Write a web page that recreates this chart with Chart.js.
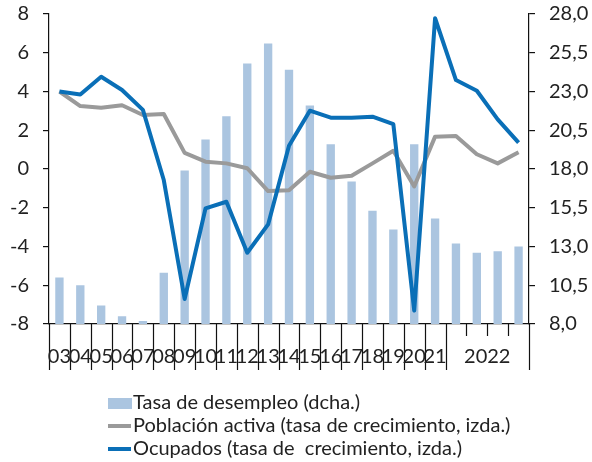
<!DOCTYPE html>
<html>
<head>
<meta charset="utf-8">
<script src="https://cdn.jsdelivr.net/npm/chart.js@4.4.0/dist/chart.umd.min.js"></script>
<style>
  html, body { margin: 0; padding: 0; background: #fff; }
  #wrap { width: 592px; height: 462px; }
</style>
</head>
<body>
<div id="wrap"><canvas id="chart" width="592" height="462"></canvas></div>
<script>
// categories: yearly 2003-2021, then 2022 by quarter
const years = ['03', '04', '05', '06', '07', '08', '09', '10', '11', '12', '13', '14', '15', '16', '17', '18', '19', '20', '21'];
const quarterYear = '2022';
const quarters = ['I', 'II', 'III', 'IV'];
const categories = years.concat(quarters.map(q => quarterYear + ' ' + q));

// Tasa de desempleo (%, right axis)
const unemployment = [11.0, 10.5, 9.2, 8.5, 8.2, 11.3, 17.9, 19.9, 21.4, 24.8, 26.1, 24.4, 22.1, 19.6, 17.2, 15.3, 14.1, 19.6, 14.8, 13.2, 12.6, 12.7, 13.0];
// Población activa (tasa de crecimiento, left axis)
const activePop = [4.0, 3.25, 3.16, 3.29, 2.79, 2.84, 0.83, 0.38, 0.29, 0.04, -1.14, -1.10, -0.14, -0.45, -0.35, 0.29, 0.94, -0.9, 1.67, 1.70, 0.76, 0.29, 0.86];
// Ocupados (tasa de crecimiento, left axis)
const employed = [4.0, 3.85, 4.76, 4.08, 3.05, -0.57, -6.71, -2.03, -1.69, -4.32, -2.86, 1.2, 3.01, 2.65, 2.65, 2.70, 2.31, -7.31, 7.78, 4.59, 4.04, 2.56, 1.36];

const FONT = 'Lato, "Open Sans", sans-serif';
const TEXT = '#222';

// draws category boundary ticks, x labels and the legend
const axisExtras = {
  id: 'axisExtras',
  afterDraw(chart) {
    const { ctx } = chart;
    const x = chart.scales.x;
    const n = categories.length;
    const bottom = chart.chartArea.bottom;
    const step = x.width / n;
    ctx.save();
    ctx.strokeStyle = '#111';
    ctx.lineWidth = 1.2;
    for (let i = 0; i <= n; i++) {
      const px = Math.round(x.left + i * step) + 0.5;
      const inQuarters = i > years.length && i < n;
      ctx.beginPath();
      ctx.moveTo(px, bottom);
      ctx.lineTo(px, bottom + (inQuarters ? 12 : 46));
      ctx.stroke();
    }
    ctx.fillStyle = TEXT;
    ctx.font = '20px ' + FONT;
    ctx.textAlign = 'center';
    ctx.textBaseline = 'middle';
    years.forEach((y, i) => {
      ctx.fillText(y, x.getPixelForValue(i), bottom + 33);
    });
    const qa = x.getPixelForValue(years.length);
    const qb = x.getPixelForValue(n - 1);
    ctx.fillText(quarterYear, (qa + qb) / 2, bottom + 33);

    // legend
    ctx.textAlign = 'left';
    ctx.font = '20px ' + FONT;
    const lx = 108, ly = 403, lh = 23;
    chart.data.datasets.forEach((ds, i) => {
      const cy = ly + i * lh;
      if (ds.type === 'bar') {
        ctx.fillStyle = ds.backgroundColor;
        ctx.fillRect(lx, cy - 5, 24, 11);
      } else {
        ctx.strokeStyle = ds.borderColor;
        ctx.lineWidth = 4;
        ctx.beginPath();
        ctx.moveTo(lx, cy);
        ctx.lineTo(lx + 23, cy);
        ctx.stroke();
      }
      ctx.fillStyle = TEXT;
      ctx.fillText(ds.label, lx + 25, cy);
    });
    ctx.restore();
  }
};

// fixed widths and no automatic label padding, so the plot area stays put
const fitY = w => scale => {
  scale.width = w;
  scale.paddingTop = 0;
  scale.paddingBottom = 0;
};

new Chart(document.getElementById('chart'), {
  type: 'bar',
  data: {
    labels: categories,
    datasets: [
      {
        type: 'bar',
        label: 'Tasa de desempleo (dcha.)',
        data: unemployment,
        yAxisID: 'y1',
        backgroundColor: '#abc5e0',
        barPercentage: 0.4,
        categoryPercentage: 1,
        order: 3
      },
      {
        type: 'line',
        label: 'Población activa (tasa de crecimiento, izda.)',
        data: activePop,
        yAxisID: 'y',
        borderColor: '#9a9a9a',
        borderWidth: 4,
        pointRadius: 0,
        tension: 0,
        borderJoinStyle: 'round',
        order: 2
      },
      {
        type: 'line',
        label: 'Ocupados (tasa de  crecimiento, izda.)',
        data: employed,
        yAxisID: 'y',
        borderColor: '#0a6fb7',
        borderWidth: 4,
        pointRadius: 0,
        tension: 0,
        borderJoinStyle: 'round',
        order: 1
      }
    ]
  },
  options: {
    responsive: false,
    animation: false,
    layout: { padding: { top: 14, bottom: 0, left: 0, right: 0 } },
    plugins: {
      legend: { display: false },
      tooltip: { enabled: false }
    },
    scales: {
      x: {
        offset: true,
        grid: { display: false },
        border: { display: true, color: '#111', width: 1.2 },
        ticks: { display: false },
        afterFit(scale) { scale.height = 138; scale.paddingLeft = 0; scale.paddingRight = 0; }
      },
      y: {
        position: 'left',
        min: -8,
        max: 8,
        grid: { drawOnChartArea: false, drawTicks: true, tickLength: 6, color: '#111', lineWidth: 1.2 },
        border: { display: true, color: '#111', width: 1.2 },
        ticks: { stepSize: 2, color: TEXT, font: { family: FONT, size: 20 }, padding: 14 },
        afterFit: fitY(49)
      },
      y1: {
        position: 'right',
        min: 8,
        max: 28,
        grid: { drawOnChartArea: false, drawTicks: true, tickLength: 6, color: '#111', lineWidth: 1.2 },
        border: { display: true, color: '#111', width: 1.2 },
        ticks: {
          stepSize: 2.5,
          color: TEXT,
          font: { family: FONT, size: 20 },
          padding: 14,
          callback: v => v.toFixed(1).replace('.', ',')
        },
        afterFit: fitY(63)
      }
    }
  },
  plugins: [axisExtras]
});
</script>
</body>
</html>
